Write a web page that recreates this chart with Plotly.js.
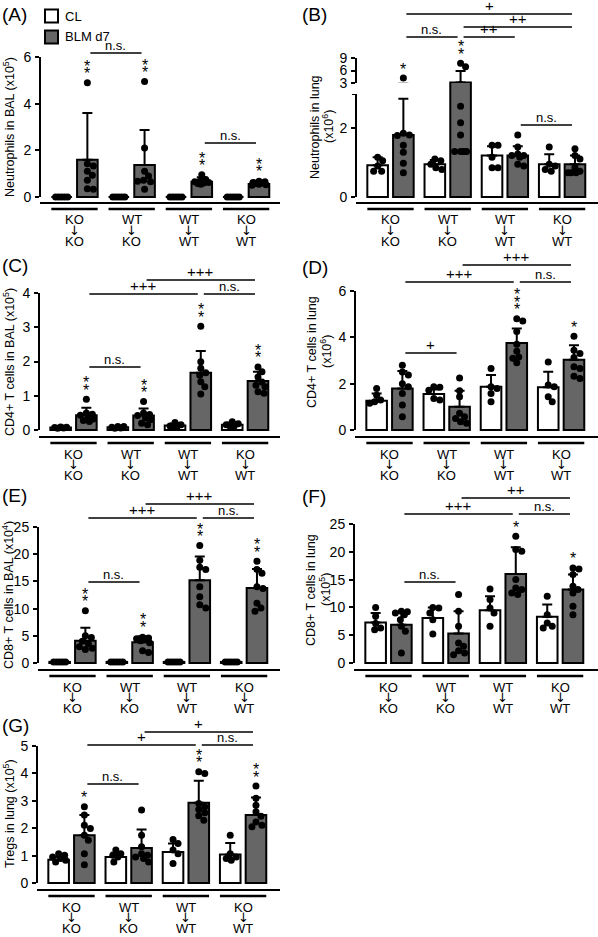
<!DOCTYPE html>
<html><head><meta charset="utf-8">
<script src="https://cdn.plot.ly/plotly-3.0.1.min.js"></script>
<style>html,body{margin:0;padding:0;background:#fff}#chart{width:598px;height:937px}</style>
</head><body><div id="chart"></div>
<script>
// ================= DATA =================
const donors = ['KO','WT','WT','KO'];
const recipients = ['KO','KO','WT','WT'];
const legendLabels = ['CL','BLM d7'];

// (A) Neutrophils in BAL (x10^5)
const A_clMean = [0,0,0,0];
const A_clSD = [0,0,0,0];
const A_clPts = [[0,0,0,0,0],[0,0,0,0,0],[0,0,0,0,0],[0,0,0,0,0]];
const A_blmMean = [1.6,1.37,0.65,0.56];
const A_blmSD = [2.0,1.5,0.2,0.14];
const A_blmPts = [[4.9,1.43,1.33,1.1,0.93,0.72,0.35,0.33],[4.95,2.1,1.1,0.9,0.72,0.68,0.65,0.33],[0.95,0.75,0.68,0.65,0.62,0.6,0.58,0.55],[0.68,0.65,0.62,0.6,0.58,0.55,0.52,0.5]];
const A_stars = ['**','**','**','**'];
const A_brFrom = [0,2], A_brTo = [1,3], A_brText = ['n.s.','n.s.'];

// (B) Neutrophils in lung (x10^6)
const B_clMean = [0.92,0.95,1.2,0.95];
const B_clSD = [0.23,0.12,0.27,0.29];
const B_clPts = [[1.15,1.05,0.9,0.75,0.75],[1.1,1.05,0.95,0.85,0.8],[1.5,1.5,1.15,0.85,0.85],[1.45,0.95,0.9,0.8,0.75]];
const B_blmMean = [1.8,3.1,1.2,0.95];
const B_blmSD = [1.05,2.8,0.27,0.25];
const B_blmPts = [[4.2,1.85,1.8,1.78,1.5,1.3,0.98,0.7],[7.75,6.9,2.63,2.15,1.8,1.32,1.32,1.32,1.32],[1.8,1.45,1.25,1.2,1.2,1.15,0.95,0.9],[1.4,1.2,1.1,0.85,0.75,0.7,0.7,0.7]];
const B_stars = ['*','**','',''];
const B_brFrom = [0,1,1,0,2], B_brTo = [3,3,2,1,3], B_brText = ['+','++','++','n.s.','n.s.'];

// (C) CD4+ T cells in BAL (x10^5)
const C_clMean = [0.07,0.08,0.13,0.15];
const C_clSD = [0.02,0.02,0.06,0.07];
const C_clPts = [[0.09,0.08,0.07,0.06,0.05],[0.1,0.1,0.08,0.06,0.05],[0.22,0.15,0.12,0.1,0.08],[0.24,0.18,0.15,0.12,0.1]];
const C_blmMean = [0.43,0.42,1.67,1.43];
const C_blmSD = [0.22,0.21,0.64,0.27];
const C_blmPts = [[0.9,0.5,0.46,0.43,0.38,0.32,0.28,0.25],[0.83,0.5,0.45,0.42,0.35,0.3,0.2,0.15],[3.03,1.99,1.8,1.67,1.6,1.41,1.26,1.05],[1.84,1.7,1.55,1.4,1.31,1.26,1.12,1.07]];
const C_stars = ['**','**','**','**'];
const C_brFrom = [1,0,2,0], C_brTo = [3,2,3,1], C_brText = ['+++','+++','n.s.','n.s.'];

// (D) CD4+ T cells in lung (x10^6)
const D_clMean = [1.26,1.55,1.87,1.85];
const D_clSD = [0.32,0.2,0.5,0.66];
const D_clPts = [[1.79,1.5,1.29,1.22,1.15],[1.87,1.84,1.72,1.36,1.29],[2.65,1.87,1.79,1.58,1.22],[2.94,1.94,1.87,1.43,1.22]];
const D_blmMean = [1.79,1.0,3.76,3.03];
const D_blmSD = [0.76,0.69,0.62,0.63];
const D_blmPts = [[2.8,2.5,2.37,2.0,1.87,1.58,1.08,0.57],[2.25,1.69,1.43,0.72,0.57,0.5,0.36,0.29],[4.8,4.7,4.25,3.7,3.4,3.15,3.1,2.9],[4.05,3.44,3.3,3.13,2.73,2.65,2.32,2.22]];
const D_stars = ['','','***','*'];
const D_brFrom = [1,0,2,0], D_brTo = [3,2,3,1], D_brText = ['+++','+++','n.s.','+'];

// (E) CD8+ T cells in BAL (x10^4)
const E_clMean = [0.2,0.2,0.2,0.2];
const E_clSD = [0,0,0,0];
const E_clPts = [[0.2,0.2,0.2,0.2,0.2],[0.2,0.2,0.2,0.2,0.2],[0.2,0.2,0.2,0.2,0.2],[0.2,0.2,0.2,0.2,0.2]];
const E_blmMean = [4.1,3.8,15.2,13.8];
const E_blmSD = [2.4,1.1,4.4,3.5];
const E_blmPts = [[9.6,5.0,4.7,4.0,3.5,3.0,2.7,2.5],[4.75,4.6,4.45,4.3,4.1,3.7,2.25,1.95],[21.6,18.9,17.6,17.2,14.0,12.2,10.7,10.1],[18.7,17.2,16.5,14.0,13.7,11.0,10.1,9.5]];
const E_stars = ['**','**','**','**'];
const E_brFrom = [1,0,2,0], E_brTo = [3,2,3,1], E_brText = ['+++','+++','n.s.','n.s.'];

// (F) CD8+ T cells in lung (x10^5)
const F_clMean = [7.3,8.1,9.5,8.3];
const F_clSD = [1.7,1.9,2.5,2.2];
const F_clPts = [[10.0,8.4,7.1,6.3,6.0],[10.0,9.9,9.0,7.8,5.2],[13.3,11.4,9.9,9.0,6.6],[12.0,8.7,7.2,6.6,6.3]];
const F_blmMean = [6.9,5.3,16.0,13.2];
const F_blmSD = [2.2,4.0,4.8,2.7];
const F_blmPts = [[9.3,9.2,9.0,8.7,7.8,6.6,5.7,1.8],[12.3,9.3,6.6,3.6,3.0,2.2,1.8,1.5],[22.8,20.4,20.1,15.0,13.5,13.2,12.6,12.3],[17.1,16.9,15.9,13.8,13.2,12.6,10.2,8.7]];
const F_stars = ['','','*','*'];
const F_brFrom = [1,0,2,0], F_brTo = [3,2,3,1], F_brText = ['++','+++','n.s.','n.s.'];

// (G) Tregs in lung (x10^5)
const G_clMean = [0.85,0.95,1.13,1.04];
const G_clSD = [0.1,0.15,0.31,0.42];
const G_clPts = [[1.07,1.01,0.95,0.89,0.83,0.77],[1.2,1.07,1.01,0.95,0.77],[1.59,1.44,1.2,1.07,0.71],[1.74,1.07,0.95,0.89,0.83]];
const G_blmMean = [1.74,1.28,2.93,2.48];
const G_blmSD = [0.74,0.67,0.8,0.64];
const G_blmPts = [[2.78,2.48,2.11,1.99,1.74,1.56,1.07,0.67],[2.66,1.74,1.32,1.07,1.01,0.95,0.89,0.77],[4.06,4.0,2.9,2.78,2.68,2.56,2.45,2.29],[3.54,3.09,2.84,2.6,2.44,2.23,2.11,2.05]];
const G_stars = ['*','','**','**'];
const G_brFrom = [1,0,2,0], G_brTo = [3,2,3,1], G_brText = ['+','+','n.s.','n.s.'];

// ================= LAYOUT / STYLE =================
const W = 598, H = 937;
const FONT = '"Liberation Sans", Arial, Helvetica, sans-serif';
const ARROW_FONT = '"DejaVu Sans", "Liberation Sans", sans-serif';
const GRAY = '#666666';
const GPX = 57.2, FIRST = 34.5, OFF = 0.225, BW = 0.36;
const py = px => 1 - px / H;
const pxx = px => px / W;

const panels = [
  {label:'(A)', lab:[0,15], ax:40, right:280, line:202,
   segs:[{bottom:202, top:24, v0:0, p0:197, v1:6, p1:57, tickvals:[0,2,4,6]}],
   title:['Neutrophils in BAL (x10<sup>5</sup>)'], tX:[9], tY:127,
   clM:A_clMean, clSD:A_clSD, clPts:A_clPts, bM:A_blmMean, bSD:A_blmSD, bPts:A_blmPts, stars:A_stars,
   brFrom:A_brFrom, brTo:A_brTo, brText:A_brText, brPx:[53,143]},
  {label:'(B)', lab:[300,15], ax:356, right:598, line:202,
   segs:[{bottom:202, top:94, v0:0, p0:197, v1:2, p1:128, tickvals:[0,2], endTick:true},
         {bottom:94, top:83, v0:2.99, p0:94, v1:2.9901, p1:83, hidden:true},
         {bottom:83, top:0, v0:3, p0:83, v1:9, p1:58, tickvals:[3,6,9]}],
   title:['Neutrophils in lung','(x10<sup>6</sup>)'], tX:[315,328], tY:127,
   clM:B_clMean, clSD:B_clSD, clPts:B_clPts, bM:B_blmMean, bSD:B_blmSD, bPts:B_blmPts, stars:B_stars,
   brFrom:B_brFrom, brTo:B_brTo, brText:B_brText, brPx:[14,27,37,37,125]},
  {label:'(C)', lab:[0,265], ax:39, right:280, line:436,
   segs:[{bottom:436, top:262, v0:0, p0:430, v1:4, p1:293, tickvals:[0,1,2,3,4]}],
   title:['CD4+ T cells in BAL (x10<sup>5</sup>)'], tX:[9], tY:362,
   clM:C_clMean, clSD:C_clSD, clPts:C_clPts, bM:C_blmMean, bSD:C_blmSD, bPts:C_blmPts, stars:C_stars,
   brFrom:C_brFrom, brTo:C_brTo, brText:C_brText, brPx:[280,294,294,367]},
  {label:'(D)', lab:[300,268], ax:355, right:598, line:436,
   segs:[{bottom:436, top:250, v0:0, p0:430, v1:6, p1:291, tickvals:[0,2,4,6]}],
   title:['CD4+ T cells in lung','(x10<sup>6</sup>)'], tX:[312,326], tY:352,
   clM:D_clMean, clSD:D_clSD, clPts:D_clPts, bM:D_blmMean, bSD:D_blmSD, bPts:D_blmPts, stars:D_stars,
   brFrom:D_brFrom, brTo:D_brTo, brText:D_brText, brPx:[265,282,282,353]},
  {label:'(E)', lab:[0,495], ax:38, right:280, line:669,
   segs:[{bottom:669, top:488, v0:0, p0:663, v1:25, p1:527, tickvals:[0,5,10,15,20,25]}],
   title:['CD8+ T cells in BAL (x10<sup>4</sup>)'], tX:[8], tY:595,
   clM:E_clMean, clSD:E_clSD, clPts:E_clPts, bM:E_blmMean, bSD:E_blmSD, bPts:E_blmPts, stars:E_stars,
   brFrom:E_brFrom, brTo:E_brTo, brText:E_brText, brPx:[504,518,518,582]},
  {label:'(F)', lab:[300,497], ax:354, right:598, line:669,
   segs:[{bottom:669, top:484, v0:0, p0:663, v1:25, p1:524, tickvals:[0,5,10,15,20,25]}],
   title:['CD8+ T cells in lung','(x10<sup>5</sup>)'], tX:[311,325], tY:590,
   clM:F_clMean, clSD:F_clSD, clPts:F_clPts, bM:F_blmMean, bSD:F_blmSD, bPts:F_blmPts, stars:F_stars,
   brFrom:F_brFrom, brTo:F_brTo, brText:F_brText, brPx:[498,514,514,582]},
  {label:'(G)', lab:[0,725], ax:37, right:280, line:889,
   segs:[{bottom:889, top:716, v0:0, p0:883, v1:5, p1:746, tickvals:[0,1,2,3,4,5]}],
   title:['Tregs in lung (x10<sup>5</sup>)'], tX:[9], tY:814,
   clM:G_clMean, clSD:G_clSD, clPts:G_clPts, bM:G_blmMean, bSD:G_blmSD, bPts:G_blmPts, stars:G_stars,
   brFrom:G_brFrom, brTo:G_brTo, brText:G_brText, brPx:[732,745,745,784]}
];

const layout = {
  width:W, height:H, margin:{l:0,r:0,t:0,b:0},
  paper_bgcolor:'#ffffff', plot_bgcolor:'rgba(0,0,0,0)',
  showlegend:false, barmode:'overlay',
  font:{family:FONT, color:'#000', size:13},
  shapes:[], annotations:[]
};
const traces = [];
const ref = (l,i) => i === 1 ? l : l + i;
const key = (l,i) => i === 1 ? l + 'axis' : l + 'axis' + i;
const TICKLEN = 4;

function beeswarm(vals, toPx, maxOff){
  const order = vals.map((v,i)=>i).sort((a,b)=>vals[b]-vals[a]);
  const placed = [], offs = new Array(vals.length).fill(0);
  const minD = 6;
  const cands = [0]; for (let d=1; d<=maxOff; d++) cands.push(d,-d);
  order.forEach(i => {
    const y = toPx(vals[i]);
    let best = 0, bestScore = -1;
    for (const c of cands){
      let md = Infinity;
      placed.forEach(q => { const dd = Math.hypot(c-q.x, y-q.y); if (dd < md) md = dd; });
      if (md >= minD){ best = c; bestScore = Infinity; break; }
      if (md > bestScore){ bestScore = md; best = c; }
    }
    placed.push({x:best, y}); offs[i] = best;
  });
  return offs;
}

let extraY = 8;
panels.forEach((p, pi) => {
  const xi = pi + 1;
  const xr = ref('x', xi);
  p.segs.forEach((s, k) => {
    const sc = (s.p0 - s.p1) / (s.v1 - s.v0);
    s.lo = s.v0 - (s.bottom - s.p0) / sc;
    s.hi = s.v0 + (s.p0 - s.top) / sc;
    s.sc = sc;
    s.yi = k === 0 ? xi : extraY++;
  });
  const segOf = v => p.segs.find(s => !s.hidden && v >= s.lo && v <= s.hi) || p.segs[0];
  const toPx = v => { const s = segOf(v); return s.bottom - (v - s.lo) * s.sc; };

  layout[key('x', xi)] = {
    domain:[pxx(p.ax), pxx(p.right)],
    range:[-FIRST/GPX, (p.right - p.ax - FIRST)/GPX],
    anchor: ref('y', p.segs[0].yi),
    showline:true, linewidth:2, linecolor:'#000',
    showticklabels:false, ticks:'', showgrid:false, zeroline:false, fixedrange:true
  };

  const ptX = [], ptY = [];
  [[p.clPts, -OFF], [p.bPts, OFF]].forEach(([sets, off]) => {
    sets.forEach((vals, g) => {
      const o = beeswarm(vals, toPx, 7);
      vals.forEach((v, j) => { ptX.push(g + off + o[j]/GPX); ptY.push(v); });
    });
  });

  p.segs.forEach(s => {
    const yr = ref('y', s.yi);
    const ax = {
      domain:[py(s.bottom), py(s.top)], range:[s.lo, s.hi], anchor:xr,
      showgrid:false, zeroline:false, showline:false, fixedrange:true,
      tickfont:{size:14, family:FONT, color:'#000'}
    };
    if (s.hidden){ ax.visible = false; }
    else {
      Object.assign(ax, {tickmode:'array', tickvals:s.tickvals, ticktext:s.tickvals.map(String),
        ticks:'outside', ticklen:TICKLEN, tickwidth:2, tickcolor:'#000', ticklabelstandoff:1});
      const yEnd = s.endTick ? s.hi : s.tickvals[s.tickvals.length-1];
      layout.shapes.push({type:'line', xref:xr + ' domain', x0:0, x1:0, yref:yr,
        y0:s.tickvals[0], y1:yEnd, line:{color:'#000', width:2}});
      if (s.endTick){
        layout.shapes.push({type:'line', xref:xr + ' domain', x0:-TICKLEN/(p.right - p.ax), x1:0,
          yref:yr, y0:yEnd, y1:yEnd, line:{color:'#000', width:2}});
      }
    }
    layout[key('y', s.yi)] = ax;

    const mkBar = (means, sds, off, color) => ({
      type:'bar', x:[0,1,2,3].map(g => g + off), y:means, width:BW,
      xaxis:xr, yaxis:yr,
      marker:{color:color, line:{color:'#000', width:2}},
      error_y:{type:'data', symmetric:false, array:sds.map(v => v > 0 ? v : null),
        arrayminus:sds.map(() => 0), color:'#000', thickness:2, width:5},
      hoverinfo:'skip'
    });
    traces.push(mkBar(p.clM, p.clSD, -OFF, '#ffffff'));
    traces.push(mkBar(p.bM, p.bSD, OFF, GRAY));
    traces.push({type:'scatter', mode:'markers', x:ptX, y:ptY, xaxis:xr, yaxis:yr,
      marker:{color:'#000', size:7}, hoverinfo:'skip'});
  });

  // significance stars above BLM bars
  p.stars.forEach((st, g) => {
    if (!st) return;
    const vTop = Math.max(Math.max(...p.bPts[g]), p.bM[g] + p.bSD[g]);
    const s = segOf(vTop);
    for (let k = 0; k < st.length; k++){
      layout.annotations.push({xref:xr, yref:ref('y', s.yi), x:g + OFF, y:vTop,
        yshift:9 + k*7.5, text:'*', showarrow:false, font:{size:16, family:FONT}});
    }
  });

  // comparison brackets
  p.brFrom.forEach((f, b) => {
    const t = p.brTo[b], yy = py(p.brPx[b]);
    const ins = 3/GPX;
    layout.shapes.push({type:'line', xref:xr, yref:'paper', x0:f + OFF + ins, x1:t + OFF - ins,
      y0:yy, y1:yy, line:{color:'#000', width:1.3}});
    layout.annotations.push({xref:xr, yref:'paper', x:(f + t)/2 + OFF, y:yy, yanchor:'bottom',
      yshift:-2, text:p.brText[b], showarrow:false,
      font:{size:p.brText[b] === 'n.s.' ? 13 : 15, family:FONT}});
  });

  // group underlines and category labels
  for (let g = 0; g < 4; g++){
    const yy = py(p.line + 7);
    layout.shapes.push({type:'line', xref:xr, yref:'paper', x0:g - OFF - BW/2, x1:g + OFF + BW/2,
      y0:yy, y1:yy, line:{color:'#000', width:2.5}});
    [[donors[g], 18, 13, FONT], ['\u2193', 28.5, 13, ARROW_FONT], [recipients[g], 39.5, 13, FONT]].forEach(([tx, dy, fs, ff]) => {
      layout.annotations.push({xref:xr, yref:'paper', x:g, y:py(p.line + dy), yanchor:'middle',
        text:tx, showarrow:false, font:{size:fs, family:ff, color:'#000'}});
    });
  }

  // y titles
  p.title.forEach((tx, k) => {
    layout.annotations.push({xref:'paper', yref:'paper', x:pxx(p.tX[k]), y:py(p.tY),
      xanchor:'center', yanchor:'middle', textangle:-90, text:tx, showarrow:false,
      font:{size:12.5, family:FONT}});
  });

  // panel label
  layout.annotations.push({xref:'paper', yref:'paper', x:pxx(p.lab[0]), y:py(p.lab[1]),
    xanchor:'left', yanchor:'middle', text:p.label, showarrow:false, font:{size:19, family:FONT}});
});

// legend (panel A)
[['#ffffff', 16], [GRAY, 37]].forEach(([c, cy], i) => {
  layout.shapes.push({type:'rect', xref:'paper', yref:'paper', x0:pxx(45), x1:pxx(58),
    y0:py(cy + 6.5), y1:py(cy - 6.5), fillcolor:c, line:{color:'#000', width:2}});
  layout.annotations.push({xref:'paper', yref:'paper', x:pxx(63), y:py(cy), xanchor:'left',
    yanchor:'middle', text:legendLabels[i], showarrow:false, font:{size:13, family:FONT}});
});

Plotly.newPlot('chart', traces, layout, {staticPlot:true, displayModeBar:false});
</script>
</body></html>
